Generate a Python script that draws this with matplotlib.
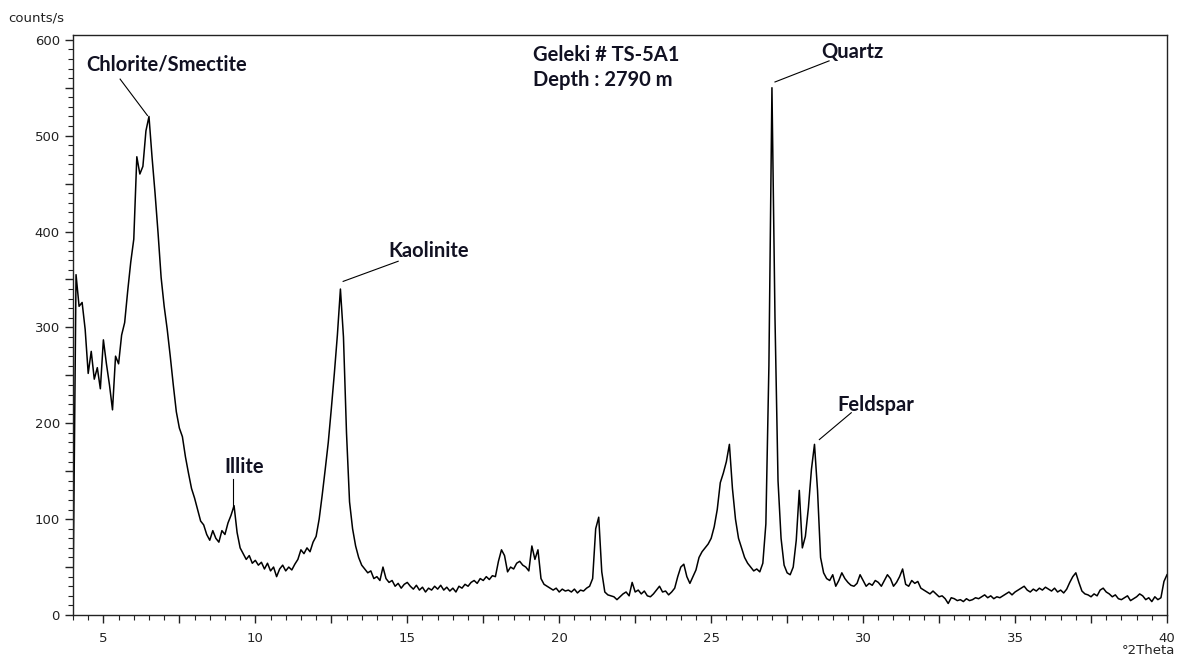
import numpy as np
import matplotlib
matplotlib.use('Agg')
import matplotlib.pyplot as plt
from matplotlib.ticker import MultipleLocator, FuncFormatter

# Scan range (degrees 2Theta), 0.1 deg step
theta_start = 4.0
theta_step = 0.1

# Counts, one row per degree
counts = [
    18, 355, 322, 326, 298, 252, 275, 246, 258, 236,      # 4
    287, 262, 240, 214, 270, 262, 292, 305, 338, 368,     # 5
    392, 478, 460, 468, 505, 520, 478, 440, 398, 352,     # 6
    322, 298, 270, 240, 212, 195, 186, 165, 148, 132,     # 7
    122, 110, 98, 94, 84, 78, 88, 80, 76, 88,             # 8
    84, 96, 104, 114, 86, 70, 64, 58, 62, 54,             # 9
    57, 52, 55, 48, 54, 46, 50, 40, 48, 52,               # 10
    46, 50, 47, 53, 58, 68, 64, 70, 66, 76,               # 11
    82, 100, 125, 152, 180, 215, 252, 292, 340, 290,      # 12
    190, 118, 90, 72, 60, 52, 48, 44, 46, 38,             # 13
    40, 36, 50, 38, 34, 36, 30, 33, 28, 32,               # 14
    34, 30, 27, 31, 26, 29, 24, 28, 26, 30,               # 15
    27, 31, 26, 29, 25, 28, 24, 30, 28, 32,               # 16
    30, 34, 36, 33, 38, 36, 40, 37, 41, 40,               # 17
    56, 68, 62, 45, 50, 48, 54, 56, 52, 50,               # 18
    46, 72, 58, 68, 38, 32, 30, 28, 26, 28,               # 19
    24, 27, 25, 26, 24, 27, 23, 26, 25, 28,               # 20
    30, 38, 90, 102, 45, 24, 21, 20, 19, 16,              # 21
    19, 22, 24, 20, 34, 24, 26, 22, 25, 20,               # 22
    19, 22, 26, 30, 24, 25, 21, 24, 28, 40,               # 23
    50, 53, 40, 33, 40, 47, 60, 66, 70, 74,               # 24
    80, 92, 110, 138, 148, 160, 178, 132, 100, 80,        # 25
    70, 60, 54, 50, 46, 48, 45, 54, 95, 260,              # 26
    550, 310, 140, 80, 52, 44, 42, 50, 78, 130,           # 27
    70, 82, 112, 152, 178, 130, 60, 44, 38, 36,           # 28
    42, 30, 36, 44, 38, 34, 31, 30, 33, 42,               # 29
    36, 30, 33, 31, 36, 34, 30, 36, 42, 38,               # 30
    30, 34, 40, 48, 32, 30, 36, 33, 35, 28,               # 31
    26, 24, 22, 25, 22, 19, 20, 17, 12, 18,               # 32
    17, 15, 16, 14, 17, 15, 16, 18, 17, 19,               # 33
    21, 18, 20, 17, 19, 18, 20, 22, 24, 21,               # 34
    24, 26, 28, 30, 26, 24, 27, 25, 28, 26,               # 35
    29, 27, 25, 28, 24, 26, 23, 27, 34, 40,               # 36
    44, 34, 25, 22, 21, 19, 22, 20, 26, 28,               # 37
    24, 22, 19, 21, 17, 16, 18, 20, 15, 17,               # 38
    19, 22, 20, 16, 18, 14, 19, 16, 18, 35,               # 39
    42,                                                   # 40
]

# Mineral labels: text, text position, leader line (start, end)
minerals = ['Chlorite/Smectite', 'Illite', 'Kaolinite', 'Quartz', 'Feldspar']
label_pos = [(4.43, 574), (8.97, 154), (14.37, 380), (28.61, 587), (29.14, 219)]
leaders = [((5.55, 559), (6.45, 521)),
           ((9.28, 142), (9.28, 113)),
           ((14.70, 369), (12.89, 348)),
           ((28.88, 578), (27.10, 556)),
           ((29.61, 211), (28.56, 183))]

sample_info = ['Geleki # TS-5A1', 'Depth : 2790 m']

theta = theta_start + theta_step * np.arange(len(counts))

fig = plt.figure(figsize=(11.77, 6.59), dpi=100)
ax = fig.add_axes([73 / 1177, 44 / 659, 1094 / 1177, 580 / 659])

ax.plot(theta, counts, color='black', lw=1.1)

ax.set_xlim(4, 40)
ax.set_ylim(0, 605)

# ticks: long at 2.5 / 50, short at 0.5 / 10, labels only every 5 / 100
ax.xaxis.set_major_locator(MultipleLocator(2.5))
ax.xaxis.set_minor_locator(MultipleLocator(0.5))
ax.yaxis.set_major_locator(MultipleLocator(50))
ax.yaxis.set_minor_locator(MultipleLocator(10))
ax.xaxis.set_major_formatter(FuncFormatter(lambda v, p: '%d' % v if abs(v % 5) < 1e-6 else ''))
ax.yaxis.set_major_formatter(FuncFormatter(lambda v, p: '%d' % v if abs(v % 100) < 1e-6 else ''))
ax.tick_params(which='major', direction='out', length=6, width=1, labelsize=9.5, colors='#222222')
ax.tick_params(which='minor', direction='out', length=3.5, width=0.8, colors='#222222')
ax.tick_params(axis='x', pad=6)
for s in ax.spines.values():
    s.set_linewidth(1.0)
    s.set_color('#222222')

for name, (tx, ty), (p0, p1) in zip(minerals, label_pos, leaders):
    ax.text(tx, ty, name, ha='left', va='center', fontsize=14.5,
            family='Lato', weight='bold', color='#111122')
    ax.plot([p0[0], p1[0]], [p0[1], p1[1]], color='black', lw=0.8)

ax.text(19.14, 584, sample_info[0], ha='left', va='center', fontsize=14.5,
        family='Lato', weight='bold', color='#111122')
ax.text(19.14, 558, sample_info[1], ha='left', va='center', fontsize=14.5,
        family='Lato', weight='bold', color='#111122')

fig.text(8 / 1177, 1 - 18 / 659, 'counts/s', ha='left', va='center', fontsize=9.5, color='#222222')
fig.text(1175 / 1177, 1 - 650 / 659, '°2Theta', ha='right', va='center', fontsize=9.5, color='#222222')

plt.savefig('out.png', dpi=100)
